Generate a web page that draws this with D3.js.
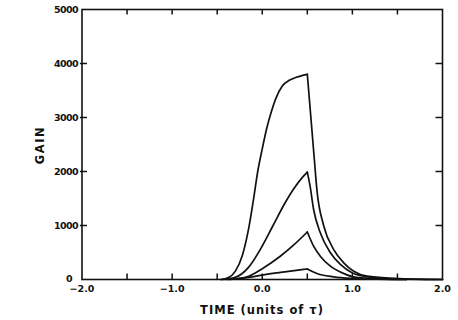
<!DOCTYPE html>
<html><head><meta charset="utf-8">
<script src="https://cdn.jsdelivr.net/npm/d3@7/dist/d3.min.js"></script>
<style>body{margin:0;background:#fff}svg{display:block}text{font-family:"DejaVu Sans",sans-serif;fill:#111}</style>
</head><body>
<script>
// Data (time in units of tau, gain)
const curve1 = [[-0.46,0],[-0.38,30],[-0.30,150],[-0.22,450],[-0.15,950],[-0.10,1450],[-0.05,2000],[0.0,2420],[0.05,2800],[0.10,3100],[0.15,3350],[0.22,3580],[0.30,3690],[0.37,3740],[0.45,3780],[0.5,3800],
  [0.578,2222],[0.607,1650],[0.681,1000],[0.793,555],[0.904,309],[1.015,154],[1.163,62],[1.46,20],[1.7,5],[2.0,0]];
const curve2 = [[-0.45,0],[-0.30,40],[-0.15,230],[0.0,620],[0.12,1000],[0.24,1380],[0.35,1680],[0.45,1900],[0.5,1990],
  [0.531,1728],[0.57,1296],[0.644,864],[0.756,494],[0.867,278],[0.996,124],[1.2,40],[1.5,10],[2.0,0]];
const curve3 = [[-0.40,0],[-0.30,10],[-0.15,60],[0.0,200],[0.2,430],[0.35,640],[0.5,880],
  [0.57,617],[0.644,432],[0.756,247],[0.904,111],[1.01,50],[1.3,10],[1.6,0]];
const curve4 = [[-0.36,0],[-0.15,40],[0.03,90],[0.25,140],[0.5,195],
  [0.64,93],[0.79,50],[1.01,20],[1.3,5],[1.6,0]];
const series = [curve1, curve2, curve3, curve4];
const xMajor = [-2,-1,0,1,2];
const xMinor = [-1.5,-0.5,0.5,1.5];
const yTicks = [0,1000,2000,3000,4000,5000];

const W=458,H=320, L=82, R=442.5, T=9.5, B=279.5;
const svg = d3.select("body").append("svg").attr("width",W).attr("height",H);
const x = d3.scaleLinear().domain([-2,2]).range([L,R]);
const y = d3.scaleLinear().domain([0,5000]).range([B,T]);

// frame
svg.append("rect").attr("x",L).attr("y",T).attr("width",R-L).attr("height",B-T)
  .attr("fill","none").attr("stroke","#111").attr("stroke-width",1.6);

// x ticks bottom (inward) and top (inward)
const allX = xMajor.concat(xMinor).filter(v=>v>-2&&v<2);
svg.append("g").selectAll("line").data(allX).join("line")
  .attr("x1",d=>x(d)).attr("x2",d=>x(d)).attr("y1",B).attr("y2",B-6)
  .attr("stroke","#111").attr("stroke-width",1.5);
svg.append("g").selectAll("line").data(allX).join("line")
  .attr("x1",d=>x(d)).attr("x2",d=>x(d)).attr("y1",T).attr("y2",T+5)
  .attr("stroke","#111").attr("stroke-width",1.5);
// y ticks left (crossing) and right (inward)
const innerY = yTicks.filter(v=>v>0&&v<5000);
svg.append("g").selectAll("line").data(innerY).join("line")
  .attr("x1",L-2).attr("x2",L+5).attr("y1",d=>y(d)).attr("y2",d=>y(d))
  .attr("stroke","#111").attr("stroke-width",1.5);
svg.append("g").selectAll("line").data(innerY).join("line")
  .attr("x1",R).attr("x2",R-7).attr("y1",d=>y(d)).attr("y2",d=>y(d))
  .attr("stroke","#111").attr("stroke-width",1.5);

// tick labels
svg.append("g").selectAll("text").data(xMajor).join("text")
  .attr("x",d=>x(d)).attr("y",292).attr("text-anchor","middle")
  .attr("font-size",9.5).attr("font-weight","bold")
  .text(d=>d3.format(".1f")(d).replace("-","\u2212"));
svg.append("g").selectAll("text").data(yTicks).join("text")
  .attr("x",d=>d===0?72:78).attr("y",d=>y(d)+(d===0?2:3.5)).attr("text-anchor","end")
  .attr("font-size",9.5).attr("font-weight","bold").attr("letter-spacing",-0.6)
  .text(d=>d);

// axis titles
svg.append("text").attr("transform","translate(44,145) rotate(-90)")
  .attr("text-anchor","middle").attr("font-size",11.5).attr("font-weight","bold")
  .attr("letter-spacing",1.5).text("GAIN");
svg.append("text").attr("x",262).attr("y",314).attr("text-anchor","middle")
  .attr("font-size",11.5).attr("font-weight","bold").attr("letter-spacing",1)
  .text("TIME (units of τ)");

// curves: rising and falling parts drawn separately so the peak stays a sharp cusp
const line = d3.line().x(d=>x(d[0])).y(d=>y(d[1])).curve(d3.curveMonotoneX);
const pieces = [];
series.forEach(s => {
  const k = d3.maxIndex(s, d=>d[1]);
  pieces.push(s.slice(0,k+1), s.slice(k));
});
svg.append("g").selectAll("path").data(pieces).join("path")
  .attr("d",line).attr("fill","none").attr("stroke","#111").attr("stroke-width",1.7)
  .attr("stroke-linecap","round");
</script>
</body></html>
